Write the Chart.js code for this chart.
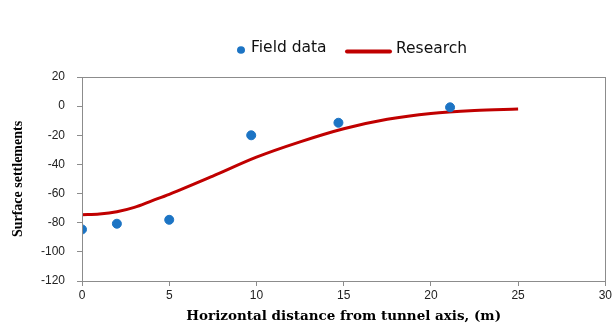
<!DOCTYPE html>
<html>
<head>
<meta charset="utf-8">
<script src="https://cdn.jsdelivr.net/npm/chart.js@4.4.0/dist/chart.umd.min.js"></script>
<style>
html,body{margin:0;padding:0;background:#fff;}
#wrap{width:614px;height:325px;position:relative;}
</style>
</head>
<body>
<div id="wrap"><canvas id="c" width="614" height="325"></canvas></div>
<script>
// Field data (measured)
const fieldX = [0, 2, 5, 9.7, 14.7, 21.1];
const fieldY = [-84.6, -80.7, -78, -20, -11.4, -0.8];
// Research curve
const researchX = [0, 1, 2, 3, 4, 5, 7.5, 10, 12.5, 15, 17.5, 20, 22.5, 25];
const researchY = [-74.5, -74, -72.5, -69.5, -65, -60.5, -48, -35, -24.5, -15.5, -9, -5, -3, -2];
// Axis ticks
const xTicks = [0, 5, 10, 15, 20, 25, 30];
const yTicks = [20, 0, -20, -40, -60, -80, -100, -120];
const seriesNames = ['Field data', 'Research'];

const blue = '#1C74C4';
const red = '#C00000';

const pts = (xs, ys) => xs.map((x, i) => ({x: x, y: ys[i]}));

const frame = {
  id: 'frame',
  afterDraw(chart) {
    const {ctx, chartArea: a} = chart;
    ctx.save();
    ctx.strokeStyle = '#8c8c8c';
    ctx.lineWidth = 1;
    ctx.strokeRect(Math.round(a.left) + 0.5, Math.round(a.top) + 0.5, Math.round(a.right - a.left), Math.round(a.bottom - a.top));
    ctx.restore();
  }
};

const legendPlug = {
  id: 'legendPlug',
  afterDraw(chart) {
    const ctx = chart.ctx;
    const ds = chart.data.datasets;
    ctx.save();
    ctx.font = '15.5px "DejaVu Sans", sans-serif';
    ctx.textBaseline = 'middle';
    ctx.textAlign = 'left';
    const cy = 48;
    // Field data marker
    ctx.fillStyle = ds[0].backgroundColor;
    ctx.beginPath();
    ctx.ellipse(241, cy + 2, 4, 3.8, 0, 0, Math.PI * 2);
    ctx.fill();
    ctx.fillStyle = '#111';
    ctx.fillText(ds[0].label, 251, cy);
    // Research line
    ctx.strokeStyle = ds[1].borderColor;
    ctx.lineWidth = 4;
    ctx.lineCap = 'round';
    ctx.beginPath();
    ctx.moveTo(347, cy + 3.5);
    ctx.lineTo(390, cy + 3.5);
    ctx.stroke();
    ctx.fillStyle = '#111';
    ctx.fillText(ds[1].label, 396, cy + 1);
    ctx.restore();
  }
};

new Chart(document.getElementById('c'), {
  type: 'scatter',
  data: {
    datasets: [
      {
        label: seriesNames[0],
        data: pts(fieldX, fieldY),
        backgroundColor: blue,
        borderColor: blue,
        pointRadius: 4.5,
        pointHoverRadius: 4.5,
        showLine: false,
        order: 0
      },
      {
        label: seriesNames[1],
        data: pts(researchX, researchY),
        borderColor: red,
        backgroundColor: red,
        borderWidth: 3,
        pointRadius: 0,
        showLine: true,
        cubicInterpolationMode: 'monotone',
        order: 1
      }
    ]
  },
  options: {
    responsive: false,
    animation: false,
    devicePixelRatio: 1,
    layout: {padding: {top: 77, right: 8, bottom: 0, left: 0}},
    plugins: {legend: {display: false}, tooltip: {enabled: false}},
    scales: {
      x: {
        type: 'linear',
        min: 0, max: 30,
        afterBuildTicks(s) { s.ticks = xTicks.map(v => ({value: v})); },
        afterFit(s) { s.height = 325 - 281; },
        grid: {display: true, drawOnChartArea: false, drawTicks: true, tickLength: 5, color: '#8c8c8c'},
        border: {display: true, color: '#8c8c8c'},
        ticks: {color: '#222', font: {family: '"Liberation Sans", Arial, sans-serif', size: 12}, padding: 2, maxRotation: 0},
        title: {display: true, text: 'Horizontal distance from tunnel axis, (m)', color: '#000',
          font: {family: '"DejaVu Serif", serif', size: 13.5, weight: 'bold'}, padding: {top: 2, bottom: 0}}
      },
      y: {
        type: 'linear',
        min: -120, max: 20,
        afterBuildTicks(s) { s.ticks = yTicks.map(v => ({value: v})); },
        afterFit(s) { s.width = 82; },
        grid: {display: true, drawOnChartArea: false, drawTicks: true, tickLength: 5, color: '#8c8c8c'},
        border: {display: true, color: '#8c8c8c'},
        ticks: {color: '#222', font: {family: '"Liberation Sans", Arial, sans-serif', size: 12}, padding: 12},
        title: {display: true, text: 'Surface settlements', color: '#000',
          font: {family: '"Liberation Serif", "Times New Roman", serif', size: 14, weight: 'bold'}, padding: {top: 10, bottom: 0}}
      }
    }
  },
  plugins: [frame, legendPlug]
});
</script>
</body>
</html>
